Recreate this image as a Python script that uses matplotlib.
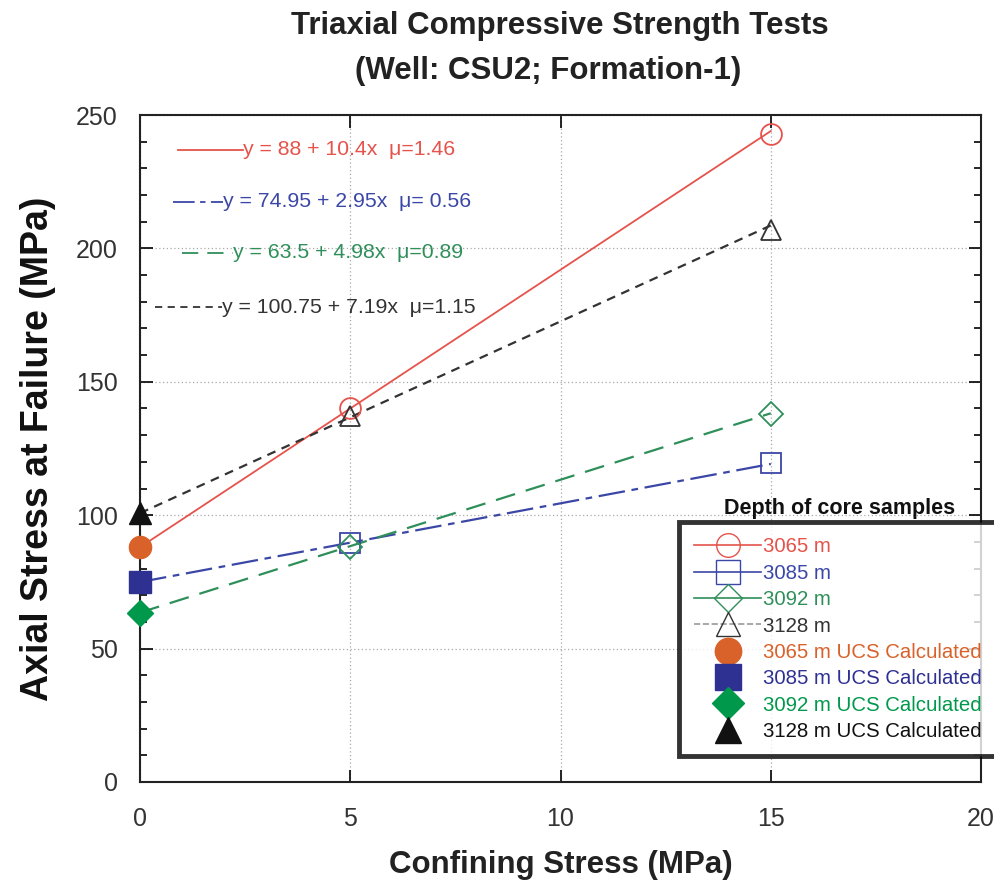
import matplotlib.pyplot as plt
import numpy as np
from matplotlib.lines import Line2D
from matplotlib.ticker import MultipleLocator

# Test depths and measured axial stress at failure (MPa)
depths = ["3065 m", "3085 m", "3092 m", "3128 m"]
confining = [5, 15]
stress_3065 = [140, 243]
stress_3085 = [89.5, 119.5]
stress_3092 = [88, 138]
stress_3128 = [137, 207]

# Linear fits: sigma1 = intercept + slope * sigma3 (intercept = UCS)
intercepts = [88, 74.95, 63.5, 100.75]
slopes = [10.4, 2.95, 4.98, 7.19]
mu = ["1.46", "0.56", "0.89", "1.15"]

line_colors = ["#e5534b", "#3b47a6", "#2f8f5a", "#333333"]
ucs_colors = ["#d9622b", "#2e3192", "#00994c", "#111111"]
open_markers = ["o", "s", "D", "^"]
ucs_markers = ["o", "s", "D", "^"]
styles = ["-", (0, (12, 3, 3, 3)), (0, (9, 5)), (0, (4, 3))]

plt.rcParams["font.family"] = ["Liberation Sans", "DejaVu Sans"]

fig = plt.figure(figsize=(9.95, 8.82), dpi=100)
ax = fig.add_axes([0.1407, 0.1134, 0.8453, 0.7562])

measured = [stress_3065, stress_3085, stress_3092, stress_3128]
xs = np.array([0] + confining, dtype=float)
for i in range(4):
    ax.plot(xs, intercepts[i] + slopes[i] * xs, color=line_colors[i],
            linestyle=styles[i], lw=1.3 if i == 0 else 1.6, zorder=3)
    ax.plot(confining, measured[i], linestyle="none", marker=open_markers[i],
            markersize=15 if i != 2 else 12, markerfacecolor="none",
            markeredgecolor=line_colors[i], markeredgewidth=1.3, zorder=4)
    ax.plot(0, intercepts[i], marker=ucs_markers[i], markersize=16 if i != 2 else 13,
            color=ucs_colors[i], linestyle="none", clip_on=False, zorder=5)

ax.set_xlim(0, 20)
ax.set_ylim(0, 250)
ax.xaxis.set_major_locator(MultipleLocator(5))
ax.yaxis.set_major_locator(MultipleLocator(50))
ax.yaxis.set_minor_locator(MultipleLocator(10))
ax.tick_params(which="both", direction="in", top=True, right=True, width=1.2)
ax.tick_params(which="major", length=9, labelsize=18, labelcolor="#333333")
ax.tick_params(axis="y", which="major", pad=16)
ax.tick_params(axis="x", which="major", pad=18)
ax.tick_params(which="minor", length=5)
ax.tick_params(axis="x", which="minor", bottom=False, top=False)
ax.grid(True, which="major", linestyle=(0, (1, 2)), color="#aaaaaa", lw=0.9)
for sp in ax.spines.values():
    sp.set_linewidth(1.5)
    sp.set_color("#222222")

ax.set_xlabel("Confining Stress (MPa)", fontsize=22.5, fontweight="bold",
              labelpad=14, color="#222222")
ax.set_ylabel("Axial Stress at Failure (MPa)", fontsize=27, fontweight="bold",
              labelpad=14, color="#111111")

fig.text(0.563, 0.971, "Triaxial Compressive Strength Tests", ha="center", va="center",
         fontsize=22.5, fontweight="bold", color="#222222")
fig.text(0.551, 0.920, "(Well: CSU2; Formation-1)", ha="center", va="center",
         fontsize=22.5, fontweight="bold", color="#222222")

# Fit equations with line samples
eq_y = [237, 217.5, 198.3, 178]
sample_x = [(0.9, 2.45), (0.79, 1.98), (1.0, 2.22), (0.36, 1.96)]
for i in range(4):
    ax.plot(sample_x[i], [eq_y[i]] * 2, color=line_colors[i], linestyle=styles[i], lw=1.3)
    txt = f"y = {intercepts[i]:g} + {slopes[i]:g}x  \u03bc={mu[i]}"
    if i == 1:
        txt = f"y = {intercepts[i]:g} + {slopes[i]:g}x  \u03bc= {mu[i]}"
    ax.text(sample_x[i][1], eq_y[i], txt, color=line_colors[i], fontsize=15.3,
            va="center", ha="left")

# Legend for depths
handles = []
labels = []
for i in range(4):
    handles.append(Line2D([], [], color="#999999" if i == 3 else line_colors[i],
                          linestyle="--" if i == 3 else "-", lw=1.2,
                          marker=open_markers[i], markersize=17 if i != 2 else 14,
                          markerfacecolor="none", markeredgecolor=line_colors[i]))
    labels.append(depths[i])
for i in range(4):
    handles.append(Line2D([], [], linestyle="none", marker=ucs_markers[i],
                          markersize=19 if i != 2 else 16, color=ucs_colors[i]))
    labels.append(depths[i] + " UCS Calculated")
leg = fig.legend(handles, labels, loc="upper left", bbox_to_anchor=(0.682, 0.408),
                 fontsize=14.7, frameon=True, fancybox=False, handlelength=3.3,
                 handletextpad=0.1, labelspacing=0.36, borderpad=0.75,
                 borderaxespad=0)
leg.get_frame().set_edgecolor("black")
leg.get_frame().set_linewidth(3.5)
for t, c in zip(leg.get_texts(), line_colors + ucs_colors):
    t.set_color(c)
fig.text(0.728, 0.424, "Depth of core samples", fontsize=15.5, fontweight="bold",
         va="center", ha="left", color="#111111")

fig.savefig("out.png", dpi=100)
